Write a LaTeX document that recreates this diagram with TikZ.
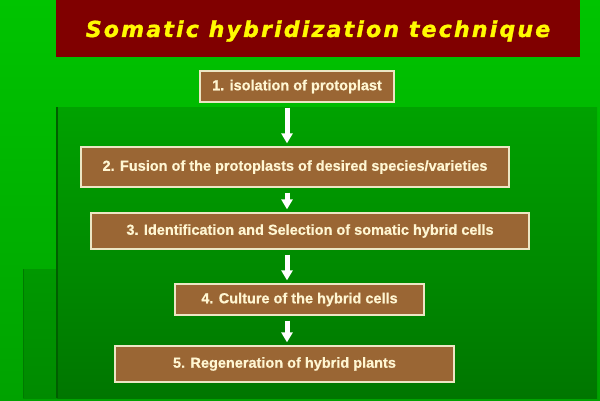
\documentclass[tikz,border=0pt]{standalone}
\usepackage{fontspec}
\setmainfont{Liberation Sans}[BoldFeatures={FakeBold=0.6}]
\newfontfamily\titlefont{DejaVu Sans}[LetterSpace=10,FakeBold=1.5]
\usetikzlibrary{arrows.meta}
\definecolor{brightgreen}{RGB}{0,196,0}
\definecolor{midgreen}{RGB}{0,162,0}
\definecolor{darkgreen}{RGB}{0,118,0}
\definecolor{edgegreen}{RGB}{0,95,0}
\definecolor{titlered}{RGB}{128,0,0}
\definecolor{titleyellow}{RGB}{255,250,0}
\definecolor{boxbrown}{RGB}{154,102,52}
\definecolor{boxedge}{RGB}{236,230,196}
\definecolor{boxtext}{RGB}{255,246,210}
\tikzset{
  stepbox/.style={draw=boxedge, line width=1.3pt, fill=boxbrown, inner sep=0pt,
    text=boxtext, font=\fontsize{14.5}{16}\selectfont\bfseries},
  flowarrow/.style={draw=white, line width=5pt,
    -{Triangle[width=11pt,length=10pt]}, shorten <=5pt, shorten >=3pt}
}
\begin{document}
\begin{tikzpicture}[x=1pt,y=-1pt]
\useasboundingbox (0,0) rectangle (600,400);
% background
\fill[top color=brightgreen, bottom color=midgreen] (0,0) rectangle (600,400);
\fill[top color=midgreen, bottom color=darkgreen] (57,107) rectangle (597,398);
\fill[top color={rgb,255:red,0;green,152;blue,0}, bottom color={rgb,255:red,0;green,138;blue,0}] (23,269) rectangle (57,398);
\draw[edgegreen, line width=1.5pt] (57,107) -- (57,398);
\draw[edgegreen!60!midgreen, line width=0.8pt] (23,269) -- (23,398);
% title
\node[fill=titlered, inner sep=0pt, minimum width=524pt, minimum height=57pt] (title) at (318,28.5) {};
\node[inner sep=0pt, text=titleyellow, font=\titlefont\fontsize{22}{24}\selectfont\bfseries\itshape]
  (titletext) at (318,31) {Somatic hybridization technique};
% steps
\node[stepbox, minimum width=194pt, minimum height=31pt] (b1) at (297,86.5) {1. isolation of protoplast};
\node[stepbox, minimum width=428pt, minimum height=40pt] (b2) at (295,167) {2. Fusion of the protoplasts of desired species/varieties};
\node[stepbox, minimum width=438pt, minimum height=36pt] (b3) at (310,231) {3. Identification and Selection of somatic hybrid cells};
\node[stepbox, minimum width=249pt, minimum height=31pt] (b4) at (299.5,299.5) {4. Culture of the hybrid cells};
\node[stepbox, minimum width=339pt, minimum height=36pt] (b5) at (284.5,364) {5. Regeneration of hybrid plants};
% arrows
\coordinate (ax) at (287,0);
\draw[flowarrow] (b1.south -| ax) -- (b2.north -| ax);
\draw[flowarrow] (b2.south -| ax) -- (b3.north -| ax);
\draw[flowarrow] (b3.south -| ax) -- (b4.north -| ax);
\draw[flowarrow] (b4.south -| ax) -- (b5.north -| ax);
\end{tikzpicture}
\end{document}
